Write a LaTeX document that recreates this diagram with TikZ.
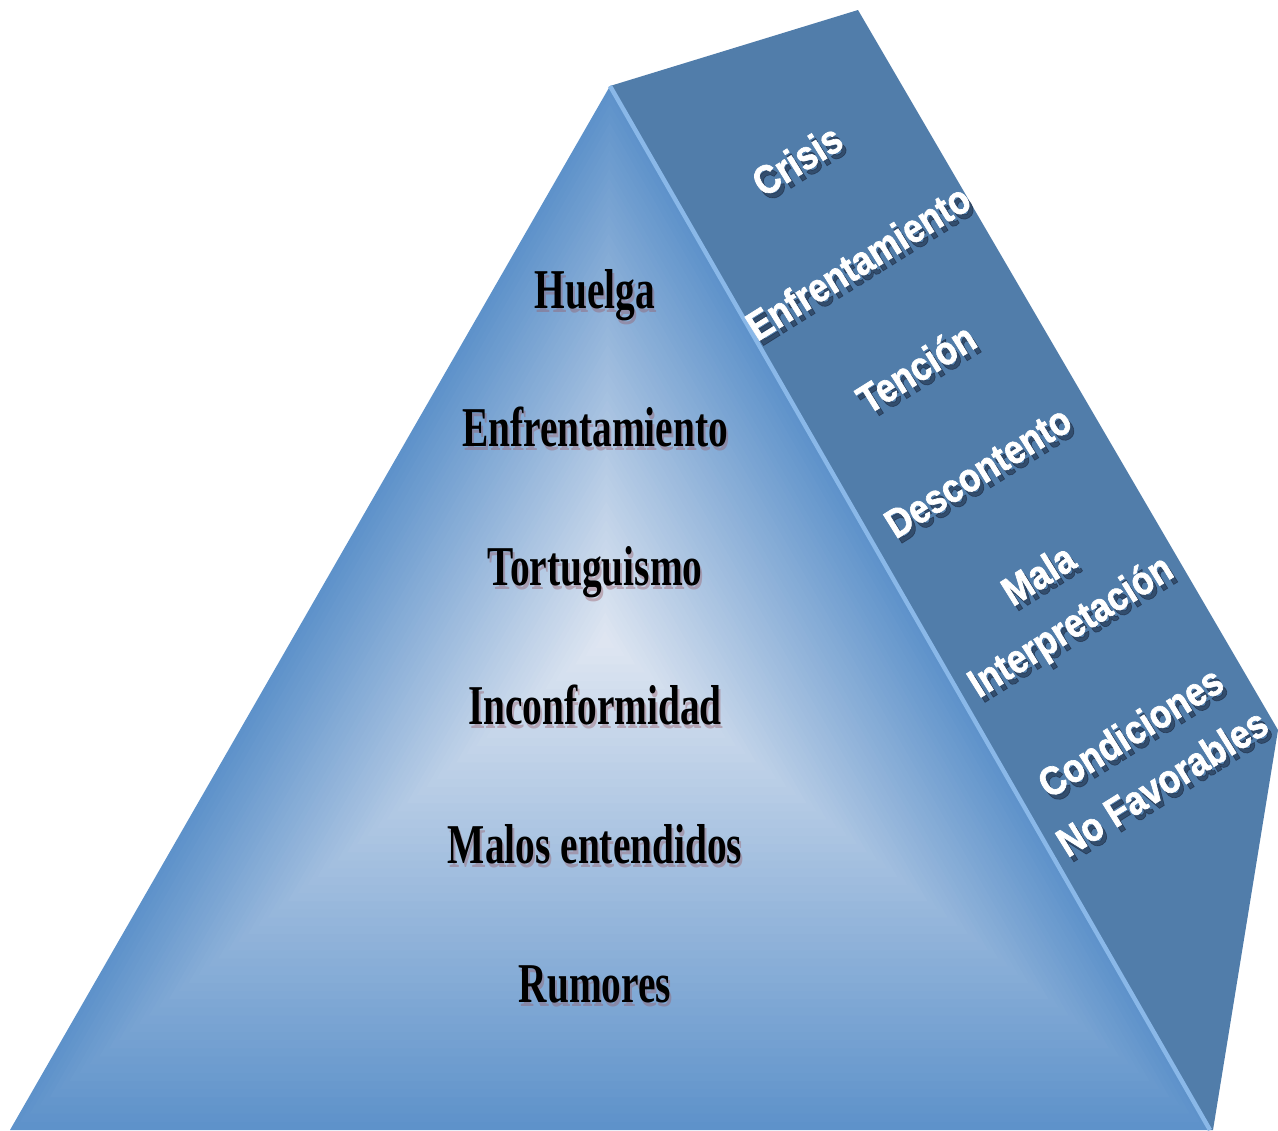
\documentclass[tikz,border=0pt]{standalone}
\usepackage{fontspec}
\usetikzlibrary{calc}
\newfontfamily\frontfont[FakeStretch=0.7]{Liberation Serif}
\newfontfamily\sidefont[FakeStretch=0.86, FakeBold=1.6]{Liberation Sans}
\definecolor{sideblue}{RGB}{81,125,170}
\definecolor{edgeblue}{RGB}{94,146,202}
\definecolor{coreblue}{RGB}{224,231,242}
\definecolor{rimblue}{RGB}{138,184,232}
\definecolor{glowrose}{RGB}{150,90,100}
\definecolor{shadenavy}{RGB}{20,30,50}
\tikzset{
  levelfront/.style={font=\frontfont\bfseries\fontsize{32}{36}\selectfont, text=black, anchor=base},
  levelglow/.style={levelfront, text=glowrose, opacity=0.4},
  levelside/.style={font=\sidefont\bfseries\fontsize{23}{34}\selectfont, text=white, rotate=32, align=center},
  sideshadow/.style={levelside, text=shadenavy, opacity=0.5}
}

\begin{document}
\begin{tikzpicture}[x=0.02cm,y=-0.02cm]
\useasboundingbox (0,0) rectangle (1278,1130);
\coordinate (apex) at (610,86);
\coordinate (baseL) at (10,1130);
\coordinate (baseR) at (1210,1130);
\coordinate (backT) at (858,10);
\coordinate (backR) at (1278,730);
\coordinate (backB) at (1213,1130);
\coordinate (glow) at (605,640);
% side face
\fill[sideblue] (apex) -- (backT) -- (backR) -- (backB) -- (baseR) -- cycle;
% front face
\foreach \k in {0,...,60}{
  \pgfmathsetmacro\t{1-\k/60}
  \pgfmathsetmacro\m{100*\k/60}
  \fill[coreblue!\m!edgeblue] ($(glow)!\t!(apex)$) -- ($(glow)!\t!(baseL)$) -- ($(glow)!\t!(baseR)$) -- cycle;
}
\draw[rimblue, line width=2.5] (apex) -- (baseR);
% levels on the front
\foreach \y/\txt [count=\i] in {308/Huelga, 446/Enfrentamiento, 585/Tortuguismo,
    724/Inconformidad, 863/Malos entendidos, 1002/Rumores}{
  \node[levelglow] (frontglow\i) at (597,\y+4) {\txt};
  \node[levelfront] (front\i) at (595,\y) {\txt};
}
% levels on the side
\foreach \x/\y/\txt [count=\i] in {797/160/Crisis, 858/262/Enfrentamiento, 916/368/Tención,
    978/472/Descontento, 1056/603/{Mala\\Interpretación}, 1146/757/{Condiciones\\No Favorables}}{
  \node[sideshadow] (sideshade\i) at (\x+4,\y+5) {\txt};
  \node[levelside] (side\i) at (\x,\y) {\txt};
}
\end{tikzpicture}
\end{document}
